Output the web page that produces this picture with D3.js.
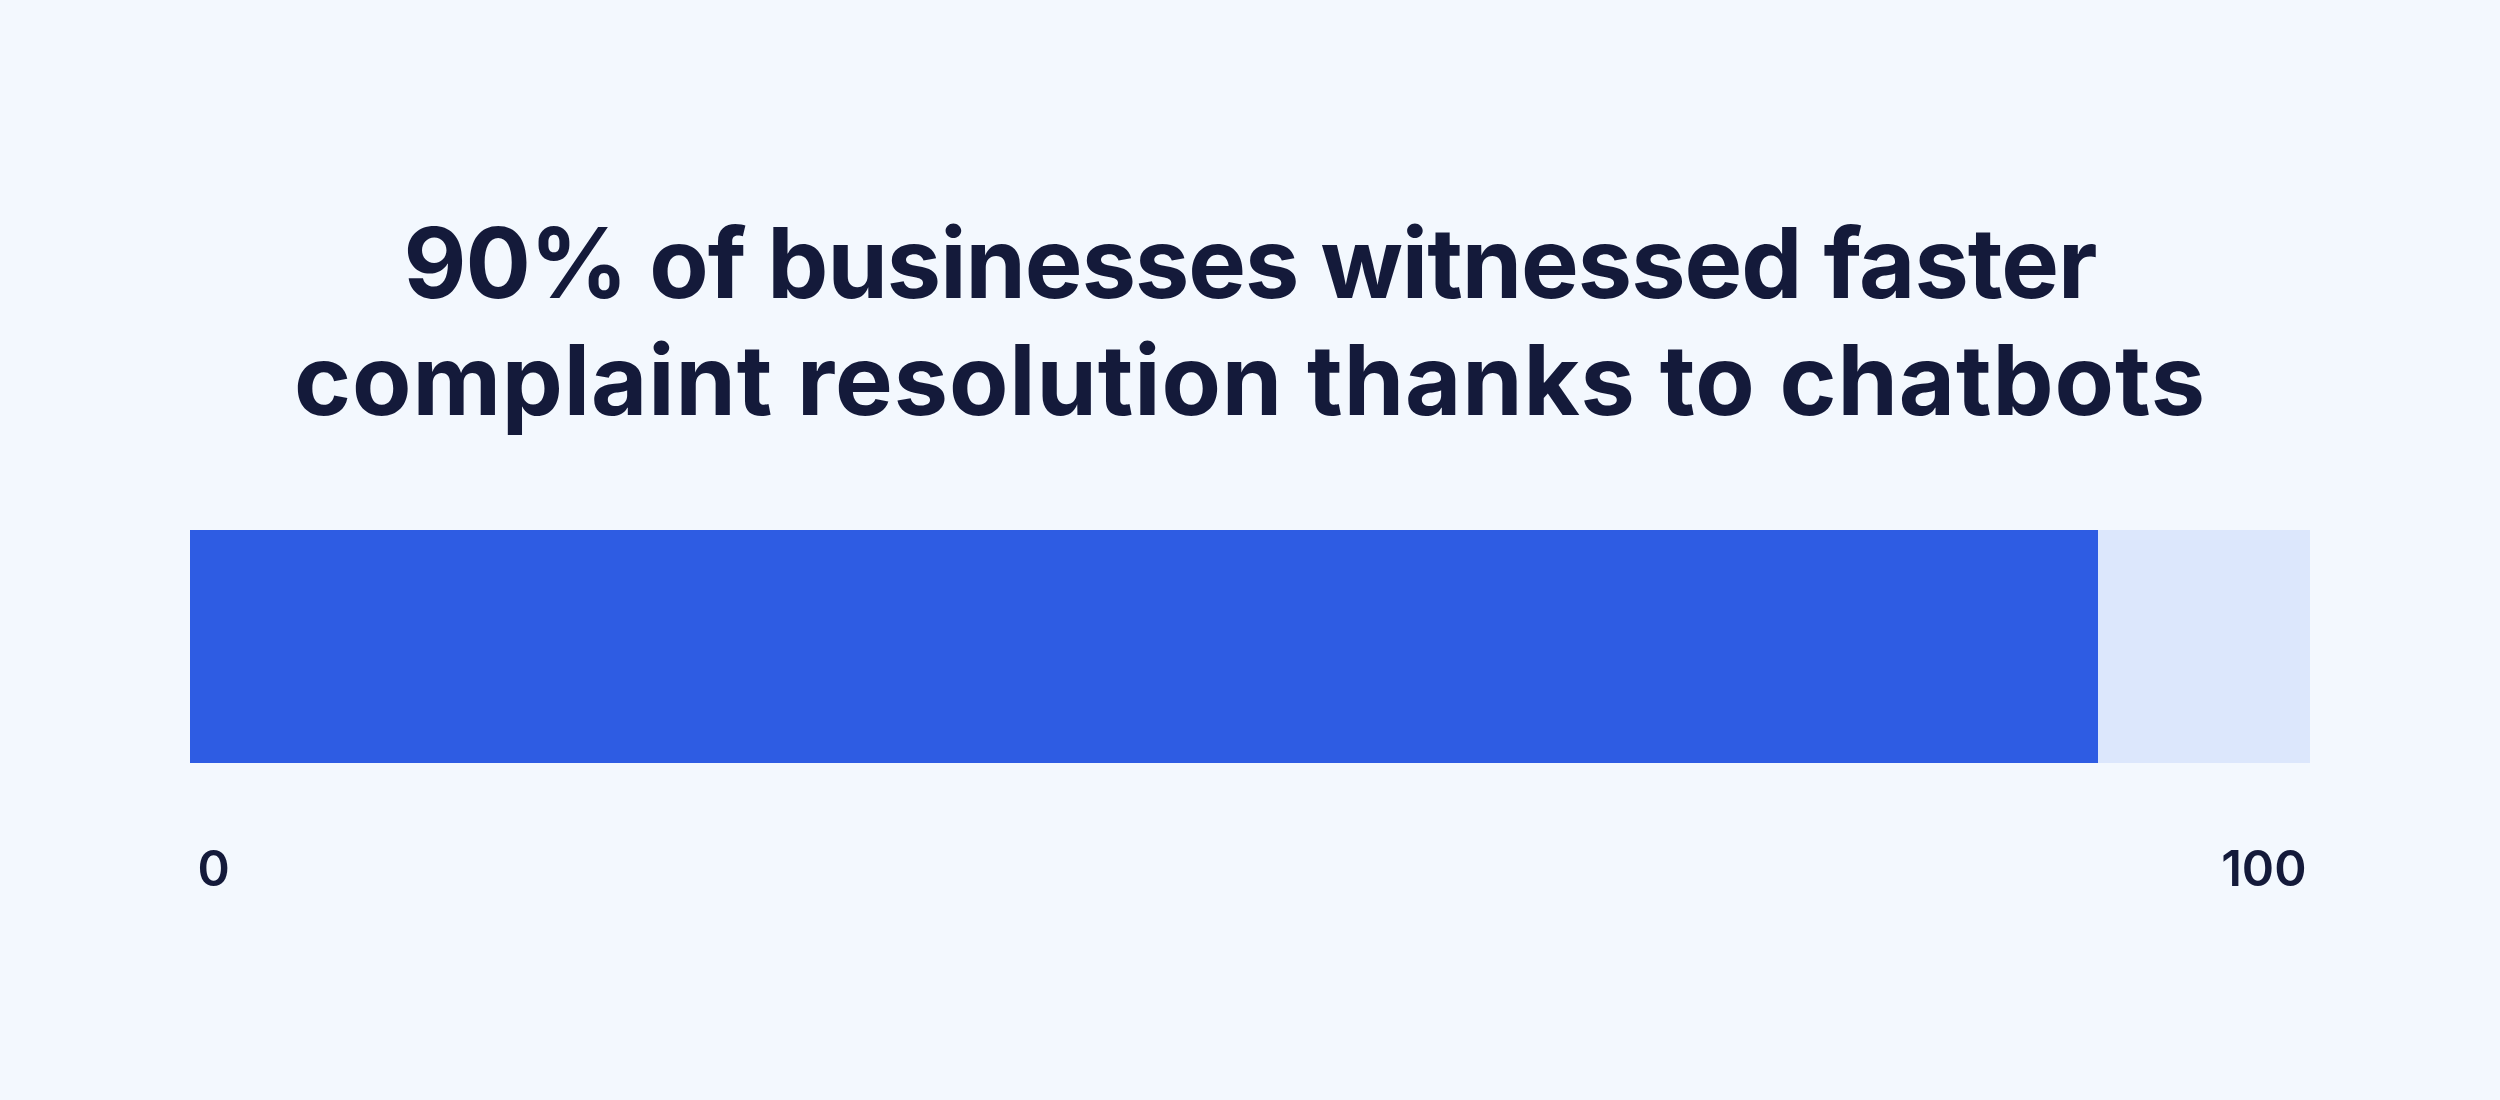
<!DOCTYPE html>
<html>
<head>
<meta charset="utf-8">
<script src="https://cdn.jsdelivr.net/npm/d3@7"></script>
<style>
  html, body { margin: 0; padding: 0; background: #f3f8fe; }
  svg { display: block; }
</style>
</head>
<body>
<div id="chart"></div>
<script>
// data
var titleLines = ["90% of businesses witnessed faster", "complaint resolution thanks to chatbots"];
var share = [90];
var total = [100];
var tickVals = [0, 100];

var W = 2500, H = 1100;
var svg = d3.select("#chart").append("svg")
  .attr("width", W).attr("height", H);

svg.append("rect").attr("width", W).attr("height", H).attr("fill", "#f3f8fe");

// title - the two lines differ a bit in tracking in the original font
var tracking = [-1, 0.9];
svg.append("g").selectAll("text")
  .data(titleLines)
  .join("text")
  .attr("x", W / 2)
  .attr("y", function(d, i) { return 298 + i * 117; })
  .attr("text-anchor", "middle")
  .attr("font-family", "Inter, 'Noto Sans', sans-serif")
  .attr("font-weight", 700)
  .attr("font-size", 97)
  .attr("letter-spacing", function(d, i) { return tracking[i] + "px"; })
  .attr("fill", "#141a3a")
  .text(function(d) { return d; });

var x = d3.scaleLinear().domain([0, 100]).range([190, 2310]);
var barTop = 530, barH = 233;

// background track
svg.selectAll("rect.track")
  .data(total)
  .join("rect")
  .attr("class", "track")
  .attr("x", x(0)).attr("y", barTop)
  .attr("width", function(d) { return x(d) - x(0); })
  .attr("height", barH)
  .attr("fill", "#dce7fc");

svg.selectAll("rect.val")
  .data(share)
  .join("rect")
  .attr("class", "val")
  .attr("x", x(0)).attr("y", barTop)
  .attr("width", function(d) { return x(d) - x(0); })
  .attr("height", barH)
  .attr("fill", "#2e5ce3");

// axis, only the two end labels
var ax = svg.append("g")
  .attr("transform", "translate(0," + 886 + ")")
  .call(d3.axisBottom(x).tickValues(tickVals).tickSize(0).tickPadding(0));
ax.select(".domain").remove();
ax.selectAll("text")
  .attr("dy", 0)
  .attr("y", 0)
  .attr("dx", function(d) { return d == 0 ? 7 : -4; })
  .attr("font-family", "Inter, 'Noto Sans', sans-serif")
  .attr("font-weight", 600)
  .attr("font-size", 49)
  .attr("fill", "#141a3a")
  .attr("text-anchor", function(d) { return d == 0 ? "start" : "end"; });
</script>
</body>
</html>
